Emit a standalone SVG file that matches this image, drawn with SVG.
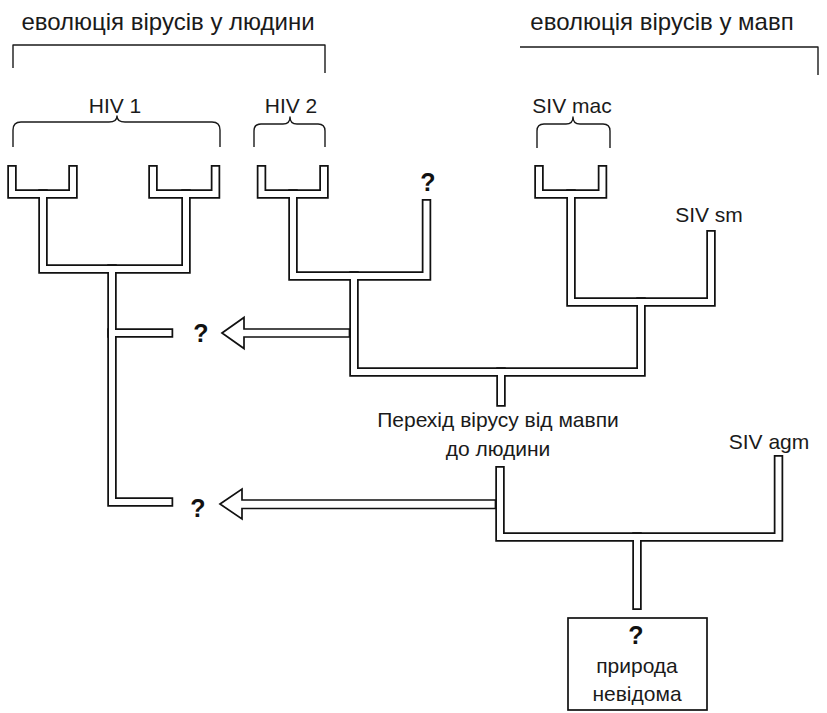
<svg xmlns="http://www.w3.org/2000/svg" width="827" height="713" viewBox="0 0 827 713">
<style>
  .bg { fill: #ffffff; }
  .title { font-family: "Liberation Sans", Arial, sans-serif; font-size: 24px; fill: #1a1a1a; text-anchor: middle; }
  .lbl { font-family: "Liberation Sans", Arial, sans-serif; font-size: 21px; fill: #1a1a1a; text-anchor: middle; }
  .q { font-family: "Liberation Sans", Arial, sans-serif; font-size: 25px; font-weight: bold; fill: #111; text-anchor: middle; }
  .thin { fill: none; stroke: #1a1a1a; stroke-width: 1.4; stroke-linejoin: round; stroke-linecap: butt; }
  .pipe-outer { fill: none; stroke: #111; stroke-width: 9.5; stroke-linecap: square; stroke-linejoin: miter; }
  .pipe-inner { fill: none; stroke: #fff; stroke-width: 6; stroke-linecap: square; stroke-linejoin: miter; }
  .arrow { fill: #fff; stroke: #111; stroke-width: 1.7; stroke-linejoin: miter; }
  .box { fill: #fff; stroke: #111; stroke-width: 1.7; }
</style>
<defs>
  <g id="tree-paths">
    <path d="M12,169.75 V194 H73 V169.75"/>
    <path d="M153,169.75 V194 H215.5 V169.75"/>
    <path d="M43,194 V269 H186 V194"/>
    <path d="M112,269 V502 H168.5"/>
    <path d="M112,333 H168.5"/>
    <path d="M261.5,169.75 V194 H324 V169.75"/>
    <path d="M293,194 V276 H426.5 V203.75"/>
    <path d="M539,169.75 V194 H602.5 V169.75"/>
    <path d="M571,194 V302 H711 V234.75"/>
    <path d="M354,276 V372 H641 V302"/>
    <path d="M501,372 V402"/>
    <path d="M500,470.75 V537 H778.5 V459.75"/>
    <path d="M637,537 V605.25"/>
  </g>
</defs>
<rect class="bg" x="0" y="0" width="827" height="713"/>

<g id="title-human">
  <text class="title" x="168" y="30">еволюція вірусів у людини</text>
  <path class="thin" d="M13,68 V45 H325 V73"/>
</g>
<g id="title-monkey">
  <text class="title" x="662" y="30">еволюція вірусів у мавп</text>
  <path class="thin" d="M520,47 H818 V75"/>
</g>

<g id="hiv1">
  <text class="lbl" x="115" y="113">HIV 1</text>
  <path class="thin" d="M13,147 V130 Q13,122 21,122 H109 Q117,122 117,116 Q117,122 125,122 H212 Q220,122 220,130 V147"/>
</g>
<g id="hiv2">
  <text class="lbl" x="291" y="113">HIV 2</text>
  <path class="thin" d="M254,147 V131 Q254,124 261,124 H283 Q290,124 290,117 Q290,124 297,124 H318 Q325,124 325,131 V147"/>
</g>
<g id="siv-mac">
  <text class="lbl" x="572" y="113">SIV mac</text>
  <path class="thin" d="M537,148 V131 Q537,124 544,124 H566 Q573,124 573,117 Q573,124 580,124 H603 Q610,124 610,131 V148"/>
</g>
<g id="unknown-hiv2">
  <text class="q" x="428" y="191">?</text>
</g>
<g id="siv-sm">
  <text class="lbl" x="709" y="222">SIV sm</text>
</g>
<g id="siv-agm">
  <text class="lbl" x="769" y="449">SIV agm</text>
</g>
<g id="transfer">
  <text class="lbl" x="498" y="427">Перехід вірусу від мавпи</text>
  <text class="lbl" x="498" y="456">до людини</text>
</g>
<g id="unknown-upper">
  <text class="q" x="201" y="342">?</text>
</g>
<g id="unknown-lower">
  <text class="q" x="198" y="517">?</text>
</g>
<g id="origin">
  <rect class="box" x="568" y="618" width="139" height="92"/>
  <text class="q" x="636" y="644">?</text>
  <text class="lbl" x="637" y="673">природа</text>
  <text class="lbl" x="637" y="701">невідома</text>
</g>

<g id="connectors">
  <use href="#tree-paths" class="pipe-outer"/>
  <use href="#tree-paths" class="pipe-inner"/>
  <polygon class="arrow" points="222,333 244,317.5 244,329 349.5,329 349.5,337 244,337 244,348.5"/>
  <polygon class="arrow" points="220,504 242,489 242,500 495.5,500 495.5,508.5 242,508.5 242,519"/>
</g>
</svg>
